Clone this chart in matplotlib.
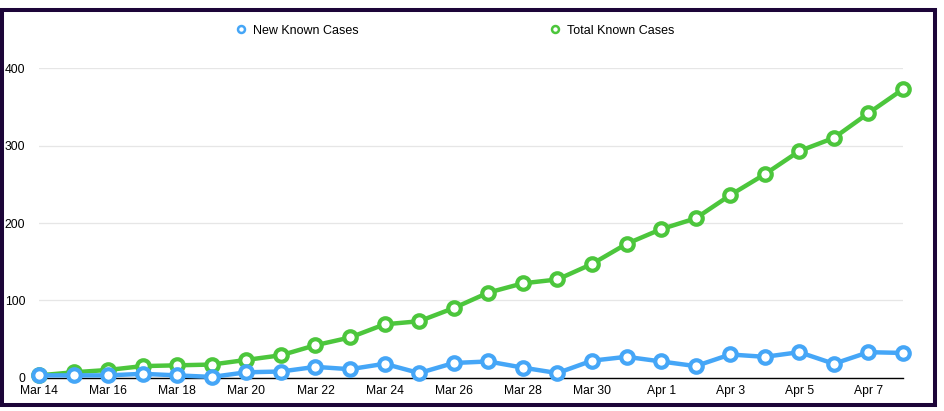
import matplotlib.pyplot as plt
import matplotlib.patches as patches
import numpy as np

dates = ["Mar 14", "Mar 15", "Mar 16", "Mar 17", "Mar 18", "Mar 19", "Mar 20",
         "Mar 21", "Mar 22", "Mar 23", "Mar 24", "Mar 25", "Mar 26", "Mar 27",
         "Mar 28", "Mar 29", "Mar 30", "Mar 31", "Apr 1", "Apr 2", "Apr 3",
         "Apr 4", "Apr 5", "Apr 6", "Apr 7", "Apr 8"]
new_cases = [3, 3, 3, 5, 3, 1, 7, 8, 14, 11, 18, 6, 19,
             21, 13, 6, 22, 27, 21, 15, 30, 27, 33, 18, 33, 32]
total_cases = [3, 7, 10, 15, 16, 17, 23, 29, 42, 52, 69, 73, 90,
               110, 122, 127, 147, 173, 192, 206, 236, 263, 293, 310, 342, 373]

blue = "#45a6f7"
green = "#4cc63c"

plt.rcParams["font.family"] = ["Liberation Sans", "DejaVu Sans"]

fig = plt.figure(figsize=(9.45, 4.11), dpi=100)
ax = fig.add_axes([39 / 945, 33.3 / 411, 864 / 945, 309.4 / 411])

x = np.arange(len(dates))
ax.plot(x, new_cases, color=blue, lw=3.2, marker="o", ms=9.0,
        mfc="white", mec=blue, mew=3.0, clip_on=False, zorder=4,
        label="New Known Cases")
ax.plot(x, total_cases, color=green, lw=3.2, marker="o", ms=9.0,
        mfc="white", mec=green, mew=3.0, clip_on=False, zorder=3,
        label="Total Known Cases")

ax.set_xlim(0, len(dates) - 1)
ax.set_ylim(0, 400)
ax.set_yticks([0, 100, 200, 300, 400])
ax.set_xticks(x[::2])
ax.set_xticklabels(dates[::2])
ax.tick_params(length=0, labelsize=8.7, colors="black")
ax.tick_params(axis="y", pad=10)
ax.tick_params(axis="x", pad=5)
ax.grid(axis="y", color="#e6e6e6", lw=0.9)
ax.set_axisbelow(True)
for s in ["top", "right", "left"]:
    ax.spines[s].set_visible(False)
ax.spines["bottom"].set_color("black")
ax.spines["bottom"].set_linewidth(1.0)
ax.spines["bottom"].set_zorder(2.5)

h1 = plt.Line2D([], [], ls="none", marker="o", ms=5, mfc="white", mec=blue, mew=1.8)
h2 = plt.Line2D([], [], ls="none", marker="o", ms=5, mfc="white", mec=green, mew=1.8)
fig.legend([h1, h2], ["New Known Cases", "Total Known Cases"], ncol=2,
           loc="center left", bbox_to_anchor=(236 / 945, 1 - 30.5 / 411),
           frameon=False, fontsize=9, handlelength=0.8, handletextpad=0.55,
           columnspacing=15.3, borderpad=0, borderaxespad=0)

border = patches.Rectangle((2 / 945, 1 - 405 / 411), 933 / 945, 395 / 411,
                           transform=fig.transFigure, fill=False,
                           edgecolor="#1c0538", lw=2.9)
fig.patches.append(border)

fig.savefig("out.png", dpi=100)
